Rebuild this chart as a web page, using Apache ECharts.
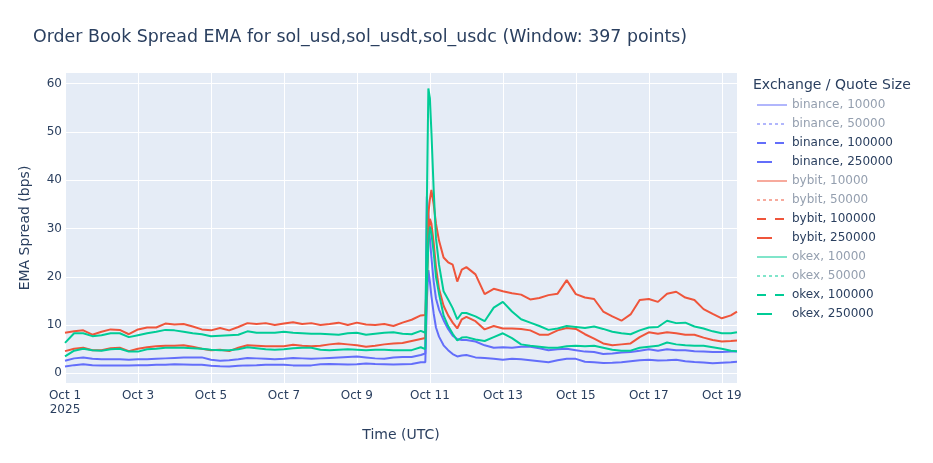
<!DOCTYPE html>
<html>
<head>
<meta charset="utf-8">
<script src="https://cdn.jsdelivr.net/npm/echarts@6/dist/echarts.min.js"></script>
<style>
  html, body { margin: 0; padding: 0; background: #fff; }
  #chart { width: 933px; height: 463px; }
</style>
</head>
<body>
<div id="chart"></div>
<script>
// hours since 2025-10-01 00:00 UTC
const hours = [
    0, 6, 12, 18, 24, 30, 36, 42, 48, 54,
    60, 66, 72, 78, 84, 90, 96, 102, 108, 114,
    120, 126, 132, 138, 144, 150, 156, 162, 168, 174,
    180, 186, 192, 198, 204, 210, 216, 222, 228, 234,
    237, 238, 239, 240, 241, 242.5, 244, 246, 249, 252, 255, 258, 261, 264,
    270, 276, 282, 288, 294, 300, 306, 312, 318, 324,
    330, 336, 342, 348, 354, 360, 366, 372, 378, 384,
    390, 396, 402, 408, 414, 420, 426, 432, 438, 442
];

const binance_100000 = [
    1.4, 1.7, 1.9, 1.7, 1.6, 1.65, 1.6, 1.6, 1.7, 1.7,
    1.8, 1.8, 1.9, 1.85, 1.8, 1.8, 1.55, 1.45, 1.4, 1.55,
    1.65, 1.7, 1.8, 1.8, 1.8, 1.65, 1.6, 1.65, 1.9, 1.95,
    1.9, 1.85, 1.9, 2.05, 1.95, 1.9, 1.85, 1.9, 1.95, 2.3,
    2.3, 15, 21.4, 19, 16, 12.4, 9.5, 7.6, 5.8, 4.8, 4.0, 3.5, 3.7, 3.8,
    3.3, 3.2, 3.0, 2.8, 3.0, 2.9, 2.7, 2.5, 2.3, 2.7,
    3.0, 3.0, 2.4, 2.3, 2.15, 2.2, 2.3, 2.5, 2.7, 2.8,
    2.65, 2.7, 2.8, 2.5, 2.35, 2.25, 2.1, 2.2, 2.3, 2.4
];
const binance_250000 = [
    2.6, 3.1, 3.3, 3.0, 2.9, 2.9, 2.9, 2.8, 2.9, 2.9,
    3.0, 3.1, 3.2, 3.3, 3.3, 3.3, 2.8, 2.6, 2.7, 2.9,
    3.2, 3.1, 3.0, 2.9, 3.0, 3.2, 3.1, 3.0, 3.1, 3.2,
    3.3, 3.4, 3.5, 3.3, 3.1, 3.0, 3.3, 3.4, 3.4, 3.8,
    4.1, 36.6, 33, 28, 24, 19, 15.5, 13.2, 11, 9.2, 7.8, 7.1, 6.9, 6.9,
    6.6, 5.8, 5.3, 5.4, 5.3, 5.5, 5.5, 5.2, 4.8, 5.0,
    5.1, 4.8, 4.5, 4.4, 4.0, 4.1, 4.3, 4.4, 4.7, 5.0,
    4.7, 5.0, 4.8, 4.8, 4.6, 4.5, 4.4, 4.4, 4.5, 4.5
];
const bybit_100000 = [
    4.6, 5.1, 5.3, 4.8, 4.8, 5.2, 5.3, 4.6, 5.1, 5.4,
    5.6, 5.7, 5.7, 5.8, 5.5, 5.1, 4.8, 4.9, 4.6, 5.3,
    5.8, 5.7, 5.6, 5.6, 5.6, 5.9, 5.7, 5.6, 5.7, 6.0,
    6.2, 6.0, 5.8, 5.5, 5.7, 6.0, 6.2, 6.3, 6.7, 7.1,
    7.3, 18, 28, 32, 31, 27, 22, 17.5, 14, 12, 10.5, 9.3, 11.2, 11.7,
    10.8, 9.1, 9.8, 9.3, 9.3, 9.2, 8.9, 8.0, 8.0, 8.9,
    9.4, 9.2, 8.1, 7.2, 6.2, 5.8, 6.0, 6.2, 7.5, 8.5,
    8.2, 8.5, 8.3, 8.0, 8.0, 7.4, 6.9, 6.6, 6.7, 6.8
];
const bybit_250000 = [
    8.4, 8.7, 8.9, 8.0, 8.6, 9.1, 9.0, 8.1, 9.1, 9.5,
    9.5, 10.3, 10.1, 10.2, 9.7, 9.1, 8.9, 9.4, 8.9, 9.6,
    10.4, 10.2, 10.4, 10.0, 10.3, 10.6, 10.2, 10.4, 10.0, 10.2,
    10.5, 10.0, 10.5, 10.1, 10.0, 10.2, 9.8, 10.5, 11.1, 12.0,
    12.1, 20, 33, 36, 38, 35, 31, 27.5, 24, 23, 22.5, 19, 21.5, 22.0,
    20.5, 16.4, 17.5, 17.0, 16.6, 16.3, 15.3, 15.6, 16.2, 16.5,
    19.3, 16.4, 15.7, 15.4, 12.8, 11.8, 10.9, 12.2, 15.2, 15.4,
    14.8, 16.5, 16.9, 15.7, 15.2, 13.3, 12.3, 11.4, 12.0, 12.8
];
const okex_100000 = [
    3.5, 4.7, 5.1, 4.8, 4.7, 5.0, 5.1, 4.5, 4.5, 5.0,
    5.1, 5.3, 5.3, 5.3, 5.2, 5.1, 4.9, 4.8, 4.8, 5.0,
    5.4, 5.2, 5.0, 4.9, 5.0, 5.2, 5.3, 5.3, 4.9, 4.8,
    4.9, 5.0, 4.9, 4.8, 4.9, 4.9, 4.8, 4.8, 4.8, 5.4,
    5.0, 18, 27, 30.4, 29, 25, 20, 16.5, 12, 9.8, 8.2, 6.8, 7.4, 7.5,
    7.0, 6.7, 7.5, 8.3, 7.3, 6.0, 5.7, 5.5, 5.3, 5.3,
    5.6, 5.7, 5.6, 5.7, 5.3, 4.9, 4.7, 4.7, 5.3, 5.5,
    5.7, 6.4, 6.0, 5.8, 5.7, 5.7, 5.4, 5.1, 4.7, 4.6
];
const okex_250000 = [
    6.3, 8.3, 8.3, 7.7, 7.9, 8.3, 8.3, 7.5, 7.9, 8.3,
    8.6, 9.0, 8.9, 8.6, 8.3, 8.1, 7.7, 7.8, 7.9, 8.0,
    8.7, 8.4, 8.4, 8.4, 8.6, 8.4, 8.3, 8.2, 8.2, 8.1,
    8.0, 8.3, 8.4, 8.0, 8.2, 8.4, 8.5, 8.2, 8.1, 8.8,
    8.4, 35, 59, 57, 50, 38, 28, 22.5, 17, 15.3, 13.5, 11.2, 12.5, 12.5,
    11.8, 10.8, 13.6, 14.8, 12.8, 11.2, 10.5, 9.8, 9.0, 9.3,
    9.8, 9.6, 9.4, 9.7, 9.2, 8.6, 8.3, 8.1, 8.9, 9.5,
    9.6, 10.9, 10.4, 10.5, 9.7, 9.3, 8.7, 8.3, 8.3, 8.5
];

const exchanges = ['binance', 'bybit', 'okex'];
const quoteSizes = [10000, 50000, 100000, 250000];
const xTickHours = [0, 48, 96, 144, 192, 240, 288, 336, 384, 432];
const xTickLabels = ['Oct 1\n2025', 'Oct 3', 'Oct 5', 'Oct 7', 'Oct 9',
    'Oct 11', 'Oct 13', 'Oct 15', 'Oct 17', 'Oct 19'];
const yTicks = [0, 10, 20, 30, 40, 50, 60];

const shown = {
    'binance, 100000': binance_100000,
    'binance, 250000': binance_250000,
    'bybit, 100000': bybit_100000,
    'bybit, 250000': bybit_250000,
    'okex, 100000': okex_100000,
    'okex, 250000': okex_250000
};

const FONT = '"DejaVu Sans", Verdana, sans-serif';
const TEXT = '#2a3f5f';
const colors = {binance: '#636efa', bybit: '#EF553B', okex: '#00cc96'};
const faded = {binance: '#b1b6fc', bybit: '#f7aa9d', okex: '#80e5ca'};
const dashes = {10000: 'solid', 50000: [3, 3], 100000: [9, 9], 250000: [15, 15]};

let series = [];
let legendData = [];
exchanges.forEach(ex => {
    quoteSizes.forEach(q => {
        let name = ex + ', ' + q;
        let vals = shown[name];
        let c = vals ? colors[ex] : faded[ex];
        series.push({
            name: name,
            type: 'line',
            symbol: 'none',
            data: vals ? hours.map((h, i) => [h, vals[i]]) : [],
            lineStyle: {width: 2, color: c},
            itemStyle: {color: c},
            emphasis: {disabled: true},
        });
        legendData.push({
            name: name,
            textStyle: {color: vals ? TEXT : '#949faf'},
            itemStyle: {opacity: 0},
            lineStyle: {width: 2, color: c, type: dashes[q]},
        });
    });
});

let chart = echarts.init(document.getElementById('chart'));
chart.setOption({
    animation: false,
    backgroundColor: '#fff',
    textStyle: {fontFamily: FONT},
    title: [{
        text: 'Order Book Spread EMA for sol_usd,sol_usdt,sol_usdc (Window: 397 points)',
        left: 33, top: 29, padding: 0,
        textStyle: {fontSize: 17.4, fontWeight: 'normal', color: TEXT, fontFamily: FONT}
    }, {
        text: 'Exchange / Quote Size',
        left: 753, top: 78, padding: 0,
        textStyle: {fontSize: 14, fontWeight: 'normal', color: TEXT, fontFamily: FONT}
    }],
    legend: {
        orient: 'vertical',
        left: 756, top: 99, padding: 0,
        itemWidth: 30, itemHeight: 14, itemGap: 7,
        selectedMode: false,
        itemStyle: {opacity: 0},
        textStyle: {fontSize: 12, color: TEXT, fontFamily: FONT},
        data: legendData
    },
    grid: {
        left: 65, right: 196, top: 73, bottom: 80,
        show: true, backgroundColor: '#E5ECF6', borderWidth: 0
    },
    xAxis: {
        type: 'value',
        min: 0, max: 442,
        name: 'Time (UTC)', nameLocation: 'middle', nameGap: 45,
        nameTextStyle: {fontSize: 14, color: TEXT, fontFamily: FONT},
        axisLine: {show: false},
        axisTick: {show: false, customValues: xTickHours},
        splitLine: {show: true, lineStyle: {color: '#fff', width: 1}},
        axisLabel: {
            customValues: xTickHours,
            margin: 6, fontSize: 12, color: TEXT, fontFamily: FONT, lineHeight: 14,
            formatter: v => xTickLabels[xTickHours.indexOf(Math.round(v))] || ''
        }
    },
    yAxis: {
        type: 'value',
        min: -2, max: 62.2,
        name: 'EMA Spread (bps)', nameLocation: 'middle', nameGap: 33,
        nameTextStyle: {fontSize: 14, color: TEXT, fontFamily: FONT},
        axisLine: {show: false},
        axisTick: {show: false, customValues: yTicks},
        splitLine: {show: true, lineStyle: {color: '#fff', width: 1}},
        axisLabel: {customValues: yTicks, margin: 3, fontSize: 12, color: TEXT, fontFamily: FONT}
    },
    series: series
});
</script>
</body>
</html>
